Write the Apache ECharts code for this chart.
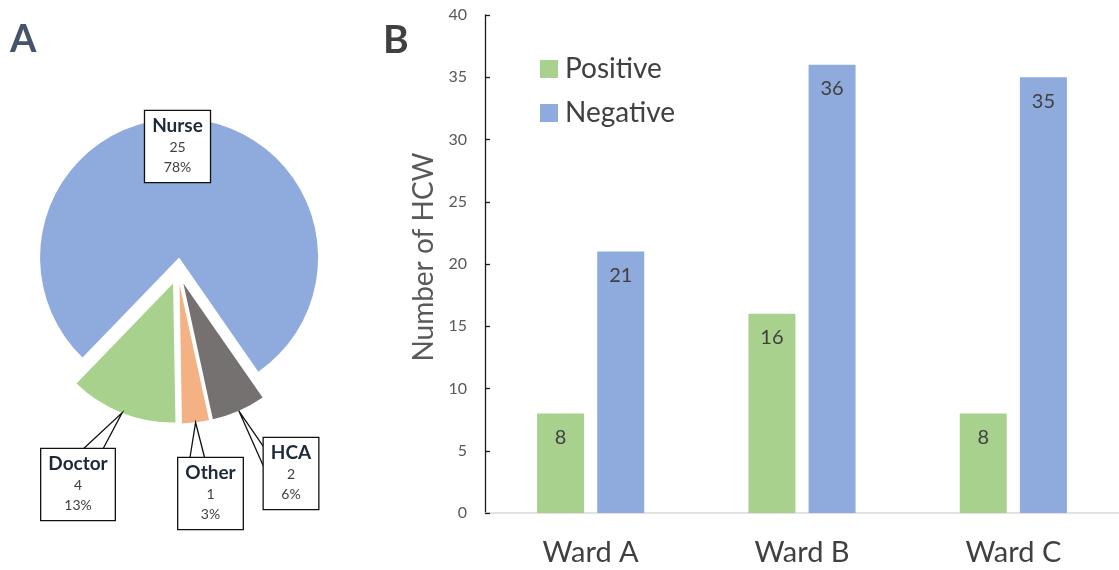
<!DOCTYPE html>
<html><head><meta charset="utf-8">
<script src="https://cdn.jsdelivr.net/npm/echarts@6/dist/echarts.min.js"></script>
<style>html,body{margin:0;padding:0;background:#fff}#c{width:1119px;height:570px}</style>
</head><body><div id="c"></div>
<script>
// ---- data ----
const roles = ['Nurse', 'HCA', 'Other', 'Doctor'];
const roleCounts = [25, 2, 1, 4];
const wards = ['Ward A', 'Ward B', 'Ward C'];
const positive = [8, 16, 8];
const negative = [21, 36, 35];
const seriesNames = ['Positive', 'Negative'];
const yMin = 0, yMax = 40, yStep = 5;

// ---- styles / layout ----
const FONT = 'Lato, "Open Sans", sans-serif';
const roleColors = { Nurse: '#8FAADC', HCA: '#767171', Other: '#F4B183', Doctor: '#A9D18E' };
const pieCenter = [178, 271];
const pieRadius = 139;
const pieStart = 226;
const explode = 13.5;
const NAME_FS = 19, VAL_FS = 14;
const PAD = [4, 7, 5, 7];
// label box: [center x, top y]
const labelBox = { Nurse: [177.5, 111], Doctor: [78, 449], Other: [210.5, 458], HCA: [291, 438] };
// callout pointer attach positions on box (fractions of width/height)
const pointer = {
  Doctor: { side: 'top', a: 0.57, b: 0.84 },
  Other: { side: 'top', a: 0.18, b: 0.41 },
  HCA: { side: 'left', a: 0.13, b: 0.41 }
};
const total = roleCounts.reduce((s, v) => s + v, 0);

const measureCtx = document.createElement('canvas').getContext('2d');
function textW(font, s) { measureCtx.font = font; return measureCtx.measureText(s).width; }

// callout labels built from the data
const calloutGraphics = [];
let cum = 0;
roles.forEach((r, i) => {
  const v = roleCounts[i];
  const a0 = pieStart - cum / total * 360;
  const a1 = a0 - v / total * 360;
  cum += v;
  const mid = (a0 + a1) / 2 * Math.PI / 180;
  const ox = pieCenter[0] + explode * Math.cos(mid);
  const oy = pieCenter[1] - explode * Math.sin(mid);
  const anchor = [ox + pieRadius * Math.cos(mid), oy - pieRadius * Math.sin(mid)];
  const pct = Math.round(v / total * 100) + '%';
  const box = labelBox[r];
  const w = Math.max(textW('bold ' + NAME_FS + 'px Lato', r), textW(VAL_FS + 'px Lato', pct)) + PAD[1] + PAD[3];
  const h = 22 + 20 + 20 + PAD[0] + PAD[2];
  const left = box[0] - w / 2, top = box[1];
  const pt = pointer[r];
  if (pt) {
    let p1, p2;
    if (pt.side === 'top') { p1 = [left + w * pt.a, top]; p2 = [left + w * pt.b, top]; }
    else { p1 = [left, top + h * pt.a]; p2 = [left, top + h * pt.b]; }
    calloutGraphics.push({
      type: 'polyline', z: 20, silent: true,
      shape: { points: [p1, anchor, p2] },
      style: { stroke: '#111', lineWidth: 1.3, fill: null }
    });
  }
  calloutGraphics.push({
    type: 'text', z: 21, silent: true,
    x: box[0], y: top,
    style: {
      text: '{n|' + r + '}\n{v|' + v + '}\n{v|' + pct + '}',
      align: 'center', verticalAlign: 'top',
      backgroundColor: '#fff', borderColor: '#111', borderWidth: 1.3,
      padding: PAD,
      rich: {
        n: { fontFamily: 'Lato', fontSize: NAME_FS, fontWeight: 'bold', fill: '#1E2A3C', lineHeight: 22, align: 'center' },
        v: { fontFamily: 'Lato', fontSize: VAL_FS, fill: '#404040', lineHeight: 20, align: 'center' }
      }
    }
  });
});

const chart = echarts.init(document.getElementById('c'), null, { renderer: 'canvas' });

const pieData = roles.map((r, i) => ({
  name: r,
  value: roleCounts[i],
  selected: true,
  itemStyle: { color: roleColors[r] }
}));

const option = {
  animation: false,
  title: [
    { text: 'A', left: 5, top: 16, textStyle: { fontFamily: FONT, fontSize: 38, fontWeight: 'bold', color: '#44546A' } },
    { text: 'B', left: 378, top: 16, textStyle: { fontFamily: FONT, fontSize: 39, fontWeight: 'bold', color: '#404040' } }
  ],
  graphic: calloutGraphics,
  legend: {
    data: seriesNames,
    orient: 'vertical',
    left: 535,
    top: 50,
    itemWidth: 18,
    itemHeight: 18,
    itemGap: 16,
    icon: 'rect',
    textStyle: { fontFamily: FONT, fontSize: 28, color: '#404040', padding: [0, 0, 0, 2] }
  },
  grid: { left: 485, right: -5, top: 15, bottom: 57, containLabel: false },
  xAxis: {
    type: 'category',
    data: wards,
    axisLine: { lineStyle: { color: '#D9D9D9', width: 1.5 } },
    axisTick: { show: false },
    axisLabel: { fontFamily: FONT, fontSize: 29, color: '#404040', margin: 25 }
  },
  yAxis: {
    type: 'value',
    min: yMin, max: yMax, interval: yStep,
    name: 'Number of HCW',
    nameLocation: 'middle',
    nameGap: 46,
    nameTextStyle: { fontFamily: FONT, fontSize: 28, color: '#595959', padding: [0, 0, 0, 14] },
    axisLine: { show: true, lineStyle: { color: '#1a1a1a', width: 1.3 } },
    axisTick: { show: true, inside: true, length: 5, lineStyle: { color: '#1a1a1a', width: 1.3 } },
    splitLine: { show: false },
    axisLabel: { fontFamily: FONT, fontSize: 16, color: '#595959', margin: 18 }
  },
  series: [
    {
      type: 'pie',
      center: pieCenter,
      radius: pieRadius,
      startAngle: pieStart,
      clockwise: true,
      selectedMode: 'multiple',
      selectedOffset: explode,
      avoidLabelOverlap: false,
      emphasis: { disabled: true },
      label: { show: false },
      labelLine: { show: false },
      data: pieData
    },
    {
      type: 'bar',
      name: seriesNames[0],
      data: positive,
      barWidth: 47,
      barGap: '28%',
      itemStyle: { color: '#A9D18E' },
      label: { show: true, position: 'insideTop', distance: 14, fontFamily: FONT, fontSize: 20, color: '#404040' }
    },
    {
      type: 'bar',
      name: seriesNames[1],
      data: negative,
      barWidth: 47,
      barGap: '28%',
      itemStyle: { color: '#8FAADC' },
      label: { show: true, position: 'insideTop', distance: 14, fontFamily: FONT, fontSize: 20, color: '#404040' }
    }
  ]
};
chart.setOption(option);
</script>
</body></html>
